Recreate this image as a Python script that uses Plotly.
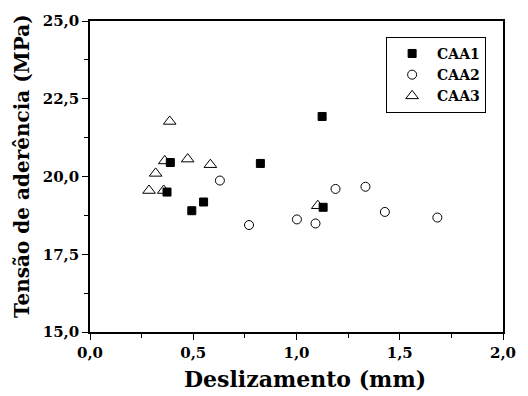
import plotly.graph_objects as go

caa1_x = [0.389, 0.373, 0.493, 0.550, 0.825, 1.124, 1.129]
caa1_y = [20.45, 19.50, 18.90, 19.18, 20.42, 21.93, 19.01]

caa2_x = [0.629, 0.770, 1.002, 1.092, 1.189, 1.334, 1.428, 1.682]
caa2_y = [19.87, 18.44, 18.62, 18.49, 19.60, 19.67, 18.86, 18.68]

caa3_x = [0.386, 0.362, 0.473, 0.583, 0.318, 0.286, 0.357, 1.103]
caa3_y = [21.77, 20.50, 20.56, 20.38, 20.10, 19.55, 19.55, 19.06]

x_title = "Deslizamento (mm)"
y_title = "Tensão de aderência (MPa)"

FONT = "DejaVu Serif"

fig = go.Figure()
fig.add_trace(go.Scatter(x=caa1_x, y=caa1_y, mode="markers", name="CAA1",
                         marker=dict(symbol="square", size=8, color="black",
                                     line=dict(color="black", width=1))))
fig.add_trace(go.Scatter(x=caa2_x, y=caa2_y, mode="markers", name="CAA2",
                         marker=dict(symbol="circle-open", size=9, color="black",
                                     line=dict(color="black", width=1))))
fig.add_trace(go.Scatter(x=caa3_x, y=caa3_y, mode="markers", name="CAA3",
                         marker=dict(symbol="triangle-up-open", size=11, color="black",
                                     line=dict(color="black", width=1))))

axis_common = dict(
    showline=True, linecolor="black", linewidth=1.5, mirror=True,
    ticks="outside", ticklen=6, tickwidth=1.2, tickcolor="black",
    showgrid=False, zeroline=False, tickformat=".1f",
    tickfont=dict(family=FONT, size=15, color="black", weight="bold"),
    minor=dict(ticks="outside", ticklen=4, tickwidth=1, tickcolor="black", showgrid=False),
)

fig.update_xaxes(range=[0, 2.0], dtick=0.5, minor_dtick=0.25, ticklabelstandoff=0, **axis_common)
fig.update_yaxes(range=[15, 25], dtick=2.5, minor_dtick=1.25, ticklabelstandoff=0, **axis_common)

fig.add_annotation(text="<b>%s</b>" % x_title, xref="paper", yref="paper",
                   x=0.521, y=-0.15, xanchor="center", yanchor="middle",
                   showarrow=False, font=dict(family=FONT, size=22, color="black"))
fig.add_annotation(text="<b>%s</b>" % y_title, xref="paper", yref="paper",
                   x=-0.166, y=0.535, xanchor="center", yanchor="middle", textangle=-90,
                   showarrow=False, font=dict(family=FONT, size=20, color="black"))

fig.update_layout(
    width=528, height=396,
    margin=dict(l=90, r=17, t=17, b=64),
    paper_bgcolor="white", plot_bgcolor="white",
    separators=",.",
    showlegend=True,
    legend=dict(x=0.717, y=0.949, xanchor="left", yanchor="top",
                bordercolor="black", borderwidth=1, bgcolor="white",
                itemwidth=40, tracegroupgap=0,
                font=dict(family=FONT, size=14, color="black", weight="bold")),
)

fig.write_html("out.html")
